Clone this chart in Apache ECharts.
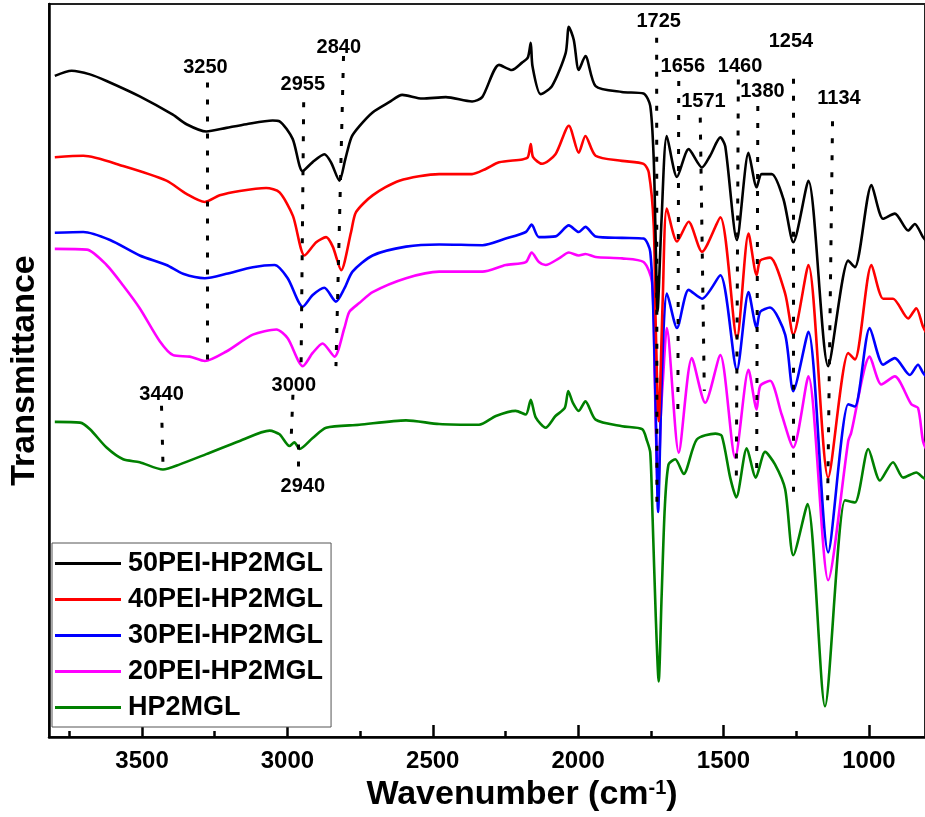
<!DOCTYPE html>
<html lang="en">
<head>
    <meta charset="utf-8">
    <title>FTIR spectra</title>
    <script src="https://cdn.jsdelivr.net/npm/echarts@6.0.0/dist/echarts.min.js"></script>
    <style>
    * { margin: 0; padding: 0; }
    html, body { background: #fff; }
    #chart { width: 925px; height: 817px; }
    </style>
</head>
<body>
    <div id="chart"></div>
    <script>
    // wavenumber (cm-1) and transmittance (a.u., offset)
    const wn50 = [3800,3742,3679,3622,3508,3394,3347,3279,3210,3141,3051,3027,2982,2948,2914,2873,2850,2821,2801,2780,2753,2707,2650,2605,2536,2455,2365,2330,2272,2228,2193,2173,2163,2157,2129,2090,2043,2032,2015,1998,1975,1940,1850,1775,1752,1740,1734,1727,1713,1695,1660,1620,1574,1546,1511,1494,1454,1414,1386,1369,1334,1294,1260,1208,1140,1071,1048,991,951,911,865,842,814,800];
    const t50  = [90.2,90.9,90.4,89.5,87.4,84.9,83.6,82.6,83.1,83.6,84.1,84.0,81.6,77.2,78.4,79.5,78.4,75.9,78.8,81.8,83.3,85.2,86.6,87.6,87.1,87.3,86.7,87.3,91.7,91.0,92.0,92.7,94.7,91.5,87.7,88.8,93.3,96.9,95.1,91.0,92.9,88.8,88.0,87.8,86.1,78.8,68.9,58.1,70.7,82.0,76.4,80.2,77.7,79.3,81.8,80.6,67.8,79.7,75.0,76.8,76.8,73.4,67.5,75.9,50.6,65.0,64.1,75.3,70.7,71.4,69.1,70.0,68.2,67.5];

    const wn40 = [3800,3702,3565,3416,3347,3284,3233,3164,3073,3027,2981,2941,2901,2867,2844,2815,2781,2764,2707,2615,2478,2365,2318,2272,2192,2173,2163,2155,2124,2078,2032,1998,1975,1940,1849,1775,1757,1740,1733,1723,1709,1695,1660,1620,1574,1511,1454,1414,1386,1374,1340,1288,1260,1208,1140,1071,1048,991,951,917,865,837,814,800];
    const t40  = [79.1,79.3,77.9,75.9,74.1,73.0,73.9,74.5,74.9,74.3,71.1,65.7,67.5,68.2,66.9,63.7,68.9,71.6,73.9,75.9,76.8,76.8,77.5,78.4,78.8,79.1,80.9,79.1,78.2,79.5,83.4,79.7,82.0,79.3,78.6,78.2,77.0,69.8,55.8,43.1,59.8,72.1,67.6,70.3,66.2,70.9,54.4,68.7,63.0,65.0,65.4,60.5,54.9,64.4,35.4,52.4,51.5,64.4,59.8,59.8,57.1,58.5,56.0,55.0];

    const wn30 = [3800,3702,3610,3508,3416,3359,3284,3210,3119,3044,2999,2947,2913,2873,2833,2804,2776,2707,2592,2478,2329,2249,2180,2160,2135,2078,2032,1998,1975,1940,1849,1775,1752,1740,1732,1725,1716,1706,1695,1660,1620,1574,1511,1454,1414,1386,1374,1340,1288,1260,1208,1140,1071,1048,997,951,911,859,831,814,800];
    const t30  = [68.8,68.9,67.8,65.7,64.4,63.2,62.6,63.2,64.1,64.4,62.6,58.7,60.3,61.3,59.4,61.2,63.5,65.7,66.9,67.2,67.1,68.0,68.9,69.9,68.2,68.3,69.8,68.9,69.6,68.3,68.1,68.0,66.2,56.2,42.2,30.7,43.6,55.8,60.5,55.8,61.0,59.8,63.0,50.1,60.7,55.8,58.0,58.6,54.9,47.2,55.3,25.2,45.4,45.1,55.8,50.8,51.7,49.4,50.8,49.7,49.0];

    const wn20 = [3800,3690,3622,3565,3508,3439,3393,3336,3284,3210,3119,3038,2999,2947,2913,2879,2838,2804,2787,2753,2707,2592,2478,2329,2249,2180,2160,2135,2112,2066,2032,1998,1975,1940,1849,1775,1746,1737,1725,1716,1708,1695,1654,1609,1563,1511,1460,1414,1386,1374,1340,1300,1260,1208,1140,1071,1061,997,957,911,854,831,814,800];
    const t20  = [66.6,66.5,64.4,61.6,58.5,54.0,52.1,51.9,51.3,52.6,54.9,55.6,54.4,50.6,52.4,53.7,51.9,55.8,58.0,59.2,60.7,62.6,63.5,63.5,64.4,64.8,66.1,64.8,64.4,65.3,66.1,65.7,65.9,65.5,65.3,64.8,62.1,49.4,32.7,43.6,49.0,55.8,38.8,51.7,45.6,52.1,38.1,50.1,44.7,47.9,48.6,44.0,39.5,49.2,21.4,40.4,41.5,51.9,48.1,49.2,45.4,44.9,40.4,39.0];

    const wnHP = [3800,3713,3679,3622,3565,3508,3428,3370,3279,3164,3061,3027,2993,2976,2958,2913,2867,2753,2592,2478,2341,2283,2215,2180,2163,2146,2112,2078,2046,2034,2018,1998,1975,1940,1849,1780,1763,1752,1744,1733,1723,1713,1702,1689,1666,1637,1592,1528,1506,1477,1456,1420,1389,1357,1323,1288,1260,1211,1151,1082,1048,1002,962,917,882,837,814,800];
    const tHP  = [43.0,42.9,42.0,39.5,37.9,37.5,36.5,37.2,38.6,40.4,41.8,41.3,39.7,40.2,39.3,40.8,42.2,42.6,43.2,42.7,42.6,43.8,44.5,44.0,46.0,43.6,42.2,43.8,44.9,47.2,45.6,44.5,45.8,43.3,42.4,42.0,40.4,38.8,30.0,16.4,7.6,19.1,31.3,37.2,37.9,35.9,40.6,41.4,41.1,35.4,32.7,39.4,35.4,38.9,37.2,33.8,24.8,31.8,4.2,32.3,32.0,39.3,35.0,37.5,35.4,36.1,35.4,35.0];

    const seriesNames = ['50PEI-HP2MGL', '40PEI-HP2MGL', '30PEI-HP2MGL', '20PEI-HP2MGL', 'HP2MGL'];
    const seriesColors = ['#000000', '#ff0000', '#0000ff', '#ff00ff', '#008000'];

    // peak marks: label text, label position, dotted guide line ends
    const peakText   = ['3250', '2955', '2840', '3440', '3000', '2940', '1725', '1656', '1571', '1460', '1380', '1254', '1134'];
    const peakLabelX = [3282, 2947, 2823, 3433, 2978, 2947, 1723, 1640, 1569, 1443, 1366, 1268, 1103];
    const peakLabelY = [91.3, 89.0, 94.1, 46.7, 48.0, 34.2, 97.6, 91.5, 86.7, 91.5, 88.1, 94.9, 87.1];
    const guideTopX  = [3275, 2944, 2807, 3433, 2981, 2964, 1730, 1654, 1580, 1449, 1382, 1260, 1125];
    const guideTopY  = [89.3, 86.6, 92.9, 45.2, 46.7, 39.9, 95.4, 89.5, 84.5, 89.7, 86.1, 89.8, 84.0];
    const guideBotX  = [3275, 2953, 2833, 3428, 2987, 2964, 1729, 1657, 1566, 1456, 1386, 1260, 1142];
    const guideBotY  = [51.5, 50.6, 50.6, 37.2, 40.8, 35.9, 30.7, 44.5, 47.2, 35.0, 36.4, 32.9, 31.8];

    const majorTicks = [1000, 1500, 2000, 2500, 3000, 3500];
    const minorTicks = [1250, 1750, 2250, 2750, 3250, 3750];

    const FONT = "'Liberation Sans', Arial, sans-serif";

    function zip(xs, ys) {
        return xs.map((x, i) => [x, ys[i]]);
    }

    const spectra = [zip(wn50, t50), zip(wn40, t40), zip(wn30, t30), zip(wn20, t20), zip(wnHP, tHP)];
    const zOrder = [7, 6, 5, 4, 3];

    var chart = echarts.init(document.getElementById('chart'));

    const lineSeries = spectra.map((d, i) => ({
        name: seriesNames[i],
        type: 'line',
        data: d,
        symbol: 'none',
        smooth: 0.25,
        z: zOrder[i],
        color: seriesColors[i],
        lineStyle: { width: 2.6, color: seriesColors[i] },
        emphasis: { disabled: true }
    }));

    const guides = {
        type: 'lines',
        coordinateSystem: 'cartesian2d',
        silent: true,
        z: 8,
        lineStyle: { color: '#000', width: 3, type: [5, 12], opacity: 1, curveness: 0 },
        data: peakText.map((t, i) => ({
            coords: [[guideTopX[i], guideTopY[i]], [guideBotX[i], guideBotY[i]]]
        }))
    };

    const peakLabels = {
        type: 'scatter',
        silent: true,
        z: 9,
        symbolSize: 2,
        itemStyle: { color: 'rgba(0,0,0,0)' },
        label: {
            show: true,
            position: 'inside',
            formatter: p => p.value[2],
            fontFamily: FONT,
            fontSize: 20,
            fontWeight: 'bold',
            color: '#000',
            opacity: 1,
            textBorderWidth: 0
        },
        data: peakText.map((t, i) => [peakLabelX[i], peakLabelY[i], t])
    };

    chart.setOption({
        animation: false,
        backgroundColor: '#fff',
        grid: {
            left: 49, right: -2, top: 4, bottom: 76,
            show: true, borderColor: '#222', borderWidth: 2
        },
        legend: {
            data: seriesNames.map(n => ({ name: n, icon: 'rect' })),
            orient: 'vertical',
            left: 52,
            top: 543,
            padding: [7, 8, 6, 3],
            itemGap: 9,
            itemWidth: 66,
            itemHeight: 3,
            backgroundColor: '#fff',
            borderColor: '#555',
            borderWidth: 1,
            borderRadius: 0,
            selectedMode: false,
            textStyle: { fontFamily: FONT, fontSize: 27, fontWeight: 'bold', color: '#000', padding: [0, 0, 0, 2] }
        },
        xAxis: [
            {
                type: 'value',
                inverse: true,
                min: 807,
                max: 3820,
                name: 'Wavenumber (cm{sup|-1})',
                nameLocation: 'middle',
                nameGap: 29,
                nameTextStyle: {
                    fontFamily: FONT, fontSize: 34, fontWeight: 'bold', color: '#000',
                    padding: [0, 0, 0, 70],
                    rich: { sup: { fontFamily: FONT, fontSize: 20, fontWeight: 'bold', color: '#000', verticalAlign: 'top' } }
                },
                axisLine: { show: true, onZero: false, lineStyle: { color: '#000', width: 2.5 } },
                axisTick: { show: true, inside: true, length: 12, customValues: majorTicks, lineStyle: { color: '#000', width: 2.5 } },
                axisLabel: {
                    show: true, customValues: majorTicks, margin: 12,
                    formatter: v => String(v),
                    fontFamily: FONT, fontSize: 24, fontWeight: 'bold', color: '#000'
                },
                splitLine: { show: false }
            },
            {
                type: 'value',
                inverse: true,
                min: 807,
                max: 3820,
                position: 'bottom',
                axisLine: { show: false },
                axisTick: { show: true, inside: true, length: 6, customValues: minorTicks, lineStyle: { color: '#000', width: 2.5 } },
                axisLabel: { show: false },
                splitLine: { show: false }
            }
        ],
        yAxis: {
            type: 'value',
            min: 0,
            max: 100,
            name: 'Transmittance',
            nameLocation: 'middle',
            nameGap: 7,
            nameTextStyle: { fontFamily: FONT, fontSize: 34, fontWeight: 'bold', color: '#000' },
            axisLine: { show: true, lineStyle: { color: '#000', width: 2.5 } },
            axisTick: { show: false },
            axisLabel: { show: false },
            splitLine: { show: false }
        },
        series: lineSeries.concat([guides, peakLabels])
    });
    </script>
</body>
</html>
